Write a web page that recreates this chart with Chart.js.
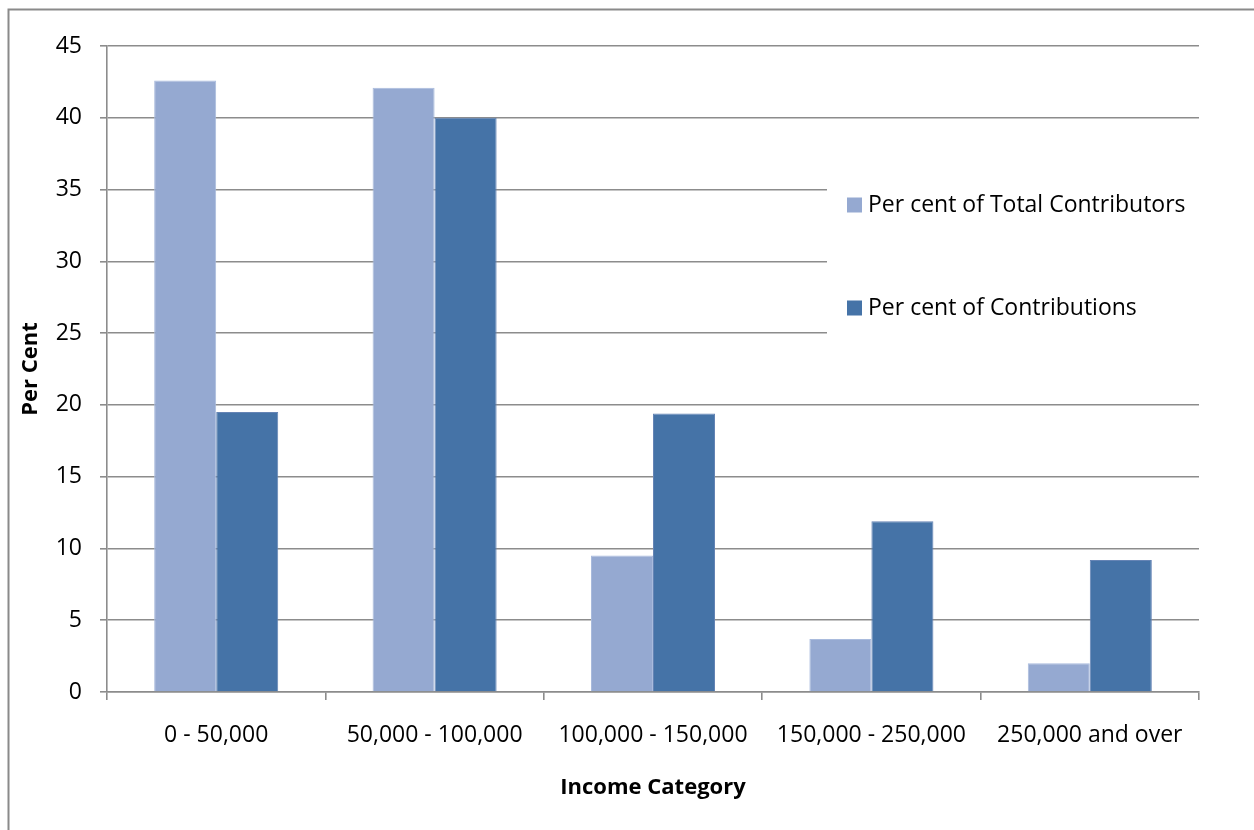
<!DOCTYPE html>
<html>
<head>
<meta charset="utf-8">
<title>Income Category</title>
<script src="https://cdn.jsdelivr.net/npm/chart.js@4.4.1/dist/chart.umd.min.js"></script>
<style>
  html, body { margin: 0; padding: 0; background: #fff; }
  #wrap { width: 1254px; height: 830px; }
</style>
</head>
<body>
<div id="wrap"><canvas id="incomeChart" width="1254" height="830"></canvas></div>
<script>
// Share of contributors vs. share of contributions by income band
const categories = ['0 - 50,000', '50,000 - 100,000', '100,000 - 150,000', '150,000 - 250,000', '250,000 and over'];
const seriesNames = ['Per cent of Total Contributors', 'Per cent of Contributions'];
const contributorsPct = [42.6, 42.1, 9.5, 3.7, 2.0];
const contributionsPct = [19.5, 40.0, 19.4, 11.9, 9.2];
const yMax = 45;
const yStep = 5;

const lightBlue = '#95a9d1';
const darkBlue = '#4573a7';
const gridGray = '#8c8c8c';
const font = "'Open Sans', 'Noto Sans', sans-serif";

// white page with the grey frame on the top and left edges
const framePlugin = {
    id: 'frame',
    beforeDraw(chart) {
        const ctx = chart.ctx;
        ctx.save();
        ctx.fillStyle = '#fff';
        ctx.fillRect(0, 0, chart.width, chart.height);
        ctx.strokeStyle = '#8a8a8a';
        ctx.lineWidth = 2;
        ctx.beginPath();
        ctx.moveTo(8.5, chart.height);
        ctx.lineTo(8.5, 9.5);
        ctx.lineTo(chart.width, 9.5);
        ctx.stroke();
        ctx.restore();
    }
};

// legend sits inside the plot on a white box, covering the grid
const boxLegend = {
    id: 'boxLegend',
    afterDraw(chart) {
        const {ctx, chartArea} = chart;
        const x0 = chartArea.right - 372;
        const top = chartArea.top + 78;
        ctx.save();
        ctx.fillStyle = '#fff';
        ctx.fillRect(x0, top, chartArea.right - x0 + 2, 274);
        ctx.font = '23px ' + font;
        ctx.textBaseline = 'middle';
        const rows = [chartArea.top + 159, chartArea.top + 262];
        chart.data.datasets.forEach((ds, i) => {
            ctx.fillStyle = ds.backgroundColor;
            ctx.fillRect(x0 + 20, rows[i] - 7.5, 15, 15);
            ctx.fillStyle = '#000';
            ctx.fillText(ds.label, x0 + 41, rows[i]);
        });
        ctx.restore();
    }
};

const ctx = document.getElementById('incomeChart').getContext('2d');
const incomeChart = new Chart(ctx, {
    type: 'bar',
    data: {
        labels: categories,
        datasets: [{
            label: seriesNames[0],
            data: contributorsPct,
            backgroundColor: lightBlue,
            borderColor: '#a9bbdd',
            borderWidth: 1
        }, {
            label: seriesNames[1],
            data: contributionsPct,
            backgroundColor: darkBlue,
            borderColor: '#6584b5',
            borderWidth: 1
        }]
    },
    options: {
        responsive: false,
        animation: false,
        devicePixelRatio: 1,
        categoryPercentage: 0.568,
        barPercentage: 1,
        layout: { padding: { left: 9, top: 46, right: 55, bottom: 0 } },
        plugins: {
            legend: { display: false },
            tooltip: { enabled: false }
        },
        scales: {
            x: {
                grid: {
                    drawOnChartArea: false,
                    drawTicks: true,
                    tickLength: 8,
                    color: gridGray,
                    lineWidth: 1.6,
                    offset: true
                },
                border: { color: gridGray, width: 1.6 },
                ticks: {
                    color: '#000',
                    font: { family: font, size: 23 },
                    padding: 22,
                    maxRotation: 0,
                    autoSkip: false
                },
                title: {
                    display: true,
                    text: 'Income Category',
                    color: '#000',
                    font: { family: font, size: 22, weight: 'bold' },
                    padding: { top: 0, bottom: 29 }
                },
                afterFit(scale) { scale.height = 138; }
            },
            y: {
                min: 0,
                max: yMax,
                grid: {
                    color: gridGray,
                    lineWidth: 1.6,
                    tickLength: 7
                },
                border: { color: gridGray, width: 1.6 },
                ticks: {
                    stepSize: yStep,
                    color: '#000',
                    font: { family: font, size: 23 },
                    padding: 18
                },
                title: {
                    display: true,
                    text: 'Per Cent',
                    color: '#000',
                    font: { family: font, size: 22, weight: 'bold' },
                    padding: { top: 9, bottom: 0 }
                },
                afterFit(scale) { scale.width = 98; }
            }
        }
    },
    plugins: [framePlugin, boxLegend]
});
</script>
</body>
</html>
